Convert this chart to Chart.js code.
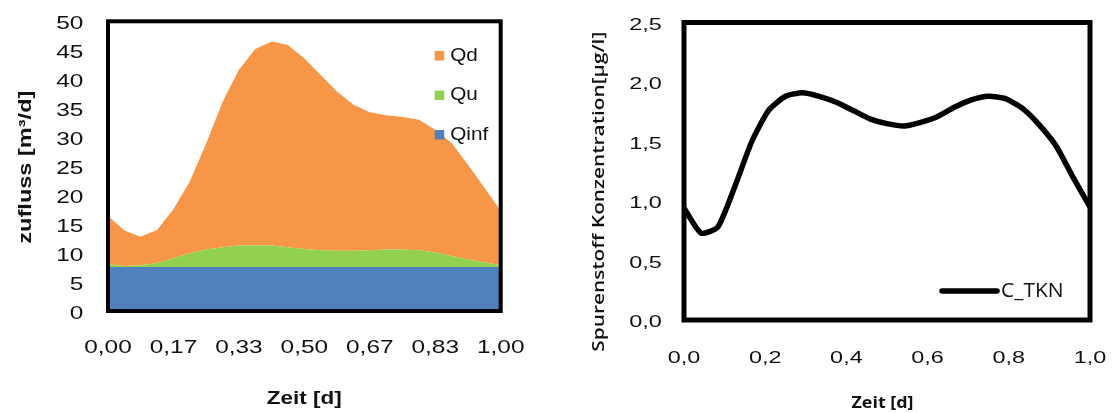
<!DOCTYPE html>
<html lang="de">
<head>
<meta charset="utf-8">
<title>Zufluss und Spurenstoff Konzentration</title>
<script src="https://cdn.jsdelivr.net/npm/chart.js@4.4.1/dist/chart.umd.min.js"></script>
<style>
  html, body { margin: 0; padding: 0; background: #fff; }
  .chart-box { position: absolute; left: 0; top: 0; width: 1113px; height: 413px; }
</style>
</head>
<body>
<div class="chart-box"><canvas id="zufluss"></canvas></div>
<div class="chart-box"><canvas id="konzentration"></canvas></div>
<script>
// Zeit in Tagen (stündliche Werte)
const zeit = [0, 0.042, 0.083, 0.125, 0.167, 0.208, 0.25, 0.292, 0.333, 0.375, 0.417, 0.458, 0.5,
              0.542, 0.583, 0.625, 0.667, 0.708, 0.75, 0.792, 0.833, 0.875, 0.917, 0.958, 1];

// Zufluss [m³/d]
const qinf = [7.6, 7.6, 7.6, 7.6, 7.6, 7.6, 7.6, 7.6, 7.6, 7.6, 7.6, 7.6, 7.6,
              7.6, 7.6, 7.6, 7.6, 7.6, 7.6, 7.6, 7.6, 7.6, 7.6, 7.6, 7.6];
const qu = [0.45, 0.15, 0.3, 0.7, 1.5, 2.35, 3.0, 3.4, 3.7, 3.7, 3.7, 3.4, 3.1,
            2.9, 2.8, 2.8, 2.9, 3.0, 3.0, 2.9, 2.5, 1.9, 1.3, 0.8, 0.3];
const qd = [8.35, 6.15, 4.9, 5.7, 8.5, 12.35, 18.3, 25.1, 30.3, 33.9, 35.2, 34.9, 32.9,
            30.2, 27.5, 25.2, 23.8, 23.2, 22.9, 22.5, 21.2, 19.5, 16.3, 12.9, 9.4];

// Spurenstoff Konzentration [µg/l]
const cTkn = [0.94, 0.73, 0.78, 1.12, 1.50, 1.76, 1.88, 1.91, 1.88, 1.83, 1.76, 1.69, 1.65,
              1.63, 1.66, 1.71, 1.79, 1.85, 1.88, 1.86, 1.78, 1.64, 1.46, 1.20, 0.95];

// Achsenbeschriftungen
const zuflussTicks = [0, 5, 10, 15, 20, 25, 30, 35, 40, 45, 50];
const zuflussLabels = ['0', '5', '10', '15', '20', '25', '30', '35', '40', '45', '50'];
const zeitTicksLinks = [0, 1 / 6, 2 / 6, 3 / 6, 4 / 6, 5 / 6, 1];
const zeitLabelsLinks = ['0,00', '0,17', '0,33', '0,50', '0,67', '0,83', '1,00'];
const zeitTicksRechts = [0, 0.2, 0.4, 0.6, 0.8, 1];
const zeitLabelsRechts = ['0,0', '0,2', '0,4', '0,6', '0,8', '1,0'];
const konzTicks = [0, 0.5, 1, 1.5, 2, 2.5];
const konzLabels = ['0,0', '0,5', '1,0', '1,5', '2,0', '2,5'];

const W = 1113, H = 413;

function punkte(werte) {
  return zeit.map((t, i) => ({ x: t, y: werte[i] }));
}

// Text mit horizontaler Streckung (sx) zeichnen
function schreibe(ctx, text, px, py, sx, align, winkel) {
  ctx.save();
  ctx.translate(px, py);
  if (winkel) ctx.rotate(winkel);
  ctx.scale(sx, 1);
  ctx.textAlign = align;
  ctx.textBaseline = 'middle';
  ctx.fillText(text, 0, 0);
  ctx.restore();
}

function schreibeBreite(ctx, t, px, py, align, winkel) {
  ctx.font = t.font;
  const sx = t.width / ctx.measureText(t.text).width;
  schreibe(ctx, t.text, px, py, sx, align, winkel);
}

// Rahmen um den Plotbereich
const rahmen = {
  id: 'rahmen',
  afterDatasetsDraw(chart, args, opts) {
    const a = chart.chartArea, ctx = chart.ctx;
    ctx.save();
    ctx.strokeStyle = '#000';
    ctx.lineWidth = opts.width;
    ctx.lineJoin = 'miter';
    ctx.strokeRect(a.left, a.top, a.right - a.left, a.bottom - a.top);
    ctx.restore();
  }
};

// Achsenwerte, Achsentitel und Legende
const beschriftung = {
  id: 'beschriftung',
  afterDraw(chart, args, o) {
    const ctx = chart.ctx, a = chart.chartArea;
    const xs = chart.scales.x, ys = chart.scales.y;
    ctx.save();
    ctx.fillStyle = o.color;

    ctx.font = o.tickFont;
    o.xTicks.forEach((v, i) => schreibe(ctx, o.xLabels[i], xs.getPixelForValue(v), o.xLabelY, o.tickStretch, 'center'));
    o.yTicks.forEach((v, i) => schreibe(ctx, o.yLabels[i], o.yLabelX, ys.getPixelForValue(v) + o.yShift, o.tickStretch, 'right'));

    schreibeBreite(ctx, o.xTitle, (a.left + a.right) / 2 + o.xTitle.dx, o.xTitle.y, 'center');
    schreibeBreite(ctx, o.yTitle, o.yTitle.x, (a.top + a.bottom) / 2 + o.yTitle.dy, 'center', -Math.PI / 2);

    // Legende
    const lg = o.legend;
    ctx.font = lg.font;
    const sets = chart.data.datasets.slice().reverse();
    sets.forEach((ds, i) => {
      const ly = a.top + lg.top + i * lg.step;
      if (lg.type === 'box') {
        ctx.fillStyle = ds.backgroundColor;
        ctx.fillRect(a.right + lg.left, ly - lg.box / 2, lg.box, lg.box);
        ctx.fillStyle = o.color;
        schreibe(ctx, ds.label, a.right + lg.left + lg.box + lg.gap, ly, lg.stretch, 'left');
      } else {
        ctx.save();
        ctx.strokeStyle = ds.borderColor;
        ctx.lineWidth = ds.borderWidth;
        ctx.lineCap = 'round';
        ctx.beginPath();
        ctx.moveTo(a.right + lg.left, ly);
        ctx.lineTo(a.right + lg.left + lg.len, ly);
        ctx.stroke();
        ctx.restore();
        schreibe(ctx, ds.label, a.right + lg.left + lg.len + lg.gap, ly, lg.stretch, 'left');
      }
    });
    ctx.restore();
  }
};

Chart.register(rahmen, beschriftung);

new Chart(document.getElementById('zufluss'), {
  type: 'line',
  data: {
    datasets: [
      { label: 'Qinf', data: punkte(qinf), backgroundColor: '#4F81BD', borderWidth: 0, pointRadius: 0, fill: 'origin' },
      { label: 'Qu', data: punkte(qu), backgroundColor: '#92D050', borderWidth: 0, pointRadius: 0, fill: '-1' },
      { label: 'Qd', data: punkte(qd), backgroundColor: '#F79646', borderWidth: 0, pointRadius: 0, fill: '-1' }
    ]
  },
  options: {
    animation: false,
    responsive: true,
    maintainAspectRatio: false,
    events: [],
    layout: { padding: { left: 108, top: 21.3, right: W - 500.7, bottom: H - 311 } },
    scales: {
      x: { type: 'linear', min: 0, max: 1, display: false },
      y: { stacked: true, min: 0, max: 50, display: false }
    },
    plugins: {
      legend: { display: false },
      tooltip: { enabled: false },
      rahmen: { width: 4 },
      beschriftung: {
        color: '#111',
        tickFont: '18.5px "Liberation Sans", Arial, sans-serif',
        tickStretch: 1.32,
        xTicks: zeitTicksLinks, xLabels: zeitLabelsLinks, xLabelY: 348,
        yTicks: zuflussTicks, yLabels: zuflussLabels, yLabelX: 83.3, yShift: 2.5,
        xTitle: { text: 'Zeit [d]', font: 'bold 19px "Liberation Sans", Arial, sans-serif', width: 75, y: 399, dx: 0 },
        yTitle: { text: 'zufluss [m³/d]', font: 'bold 18px "Liberation Sans", Arial, sans-serif', width: 153, x: 26, dy: 1 },
        legend: { type: 'box', font: '18.5px "Liberation Sans", Arial, sans-serif', stretch: 1.12,
                  left: -66, top: 34.5, step: 39.5, box: 9.5, gap: 6 }
      }
    }
  }
});

new Chart(document.getElementById('konzentration'), {
  type: 'line',
  data: {
    datasets: [
      { label: 'C_TKN', data: punkte(cTkn), borderColor: '#000', borderWidth: 5.5, pointRadius: 0,
        fill: false, tension: 0.2, borderCapStyle: 'round', borderJoinStyle: 'round' }
    ]
  },
  options: {
    animation: false,
    responsive: true,
    maintainAspectRatio: false,
    events: [],
    layout: { padding: { left: 684, top: 22.5, right: W - 1090, bottom: H - 320 } },
    scales: {
      x: { type: 'linear', min: 0, max: 1, display: false },
      y: { min: 0, max: 2.5, display: false }
    },
    plugins: {
      legend: { display: false },
      tooltip: { enabled: false },
      rahmen: { width: 5 },
      beschriftung: {
        color: '#111',
        tickFont: '16.5px "Liberation Sans", Arial, sans-serif',
        tickStretch: 1.42,
        xTicks: zeitTicksRechts, xLabels: zeitLabelsRechts, xLabelY: 358,
        yTicks: konzTicks, yLabels: konzLabels, yLabelX: 661.7, yShift: 2.5,
        xTitle: { text: 'Zeit [d]', font: 'bold 16px "Open Sans", sans-serif', width: 62, y: 403, dx: -4.5 },
        yTitle: { text: 'Spurenstoff Konzentration[µg/l]', font: '600 16px "Open Sans", sans-serif', width: 320, x: 599, dy: 20.5 },
        legend: { type: 'line', font: '20px "Open Sans", sans-serif', stretch: 1.05,
                  left: -148, top: 268.5, step: 0, len: 55, gap: 4 }
      }
    }
  }
});
</script>
</body>
</html>
